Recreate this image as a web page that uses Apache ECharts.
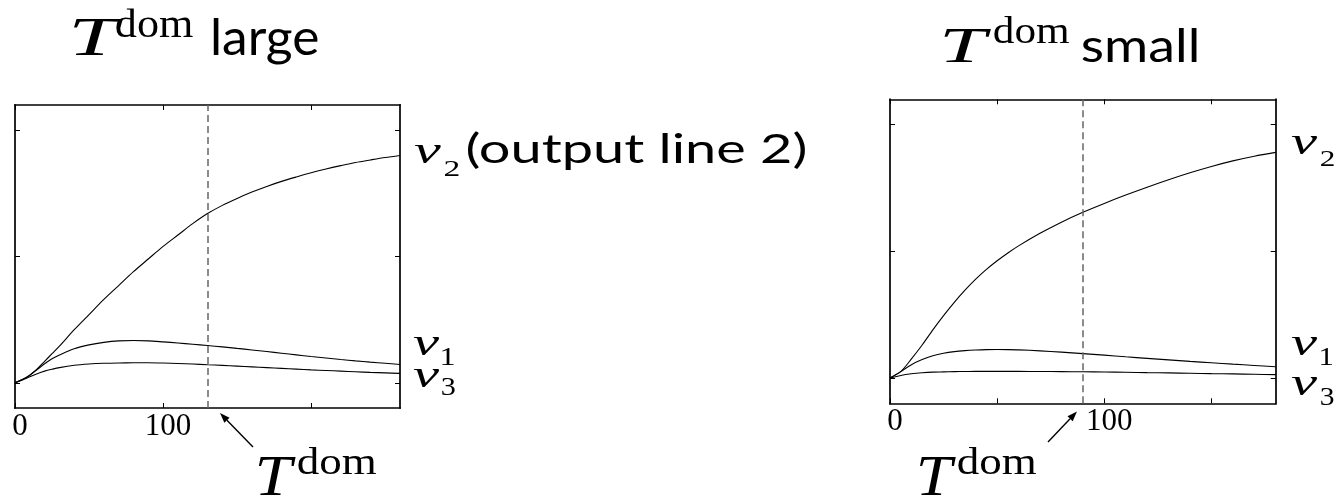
<!DOCTYPE html>
<html>
<head>
<meta charset="utf-8">
<script src="https://cdn.jsdelivr.net/npm/echarts@6/dist/echarts.min.js"></script>
<style>
  html, body { margin: 0; padding: 0; background: #fff; }
  #chart { width: 1339px; height: 500px; }
</style>
</head>
<body>
<div id="chart"></div>
<script>
// ---- responses with a long dominant time constant ----
const timesLarge = [0, 5, 10, 15, 20, 25, 30, 40, 50, 60, 70, 80, 90, 100, 110, 120, 130, 140, 150, 160, 170, 180, 190, 200, 210, 220, 230, 240, 250, 260];
const v1Large = [0, 0.025, 0.06, 0.105, 0.15, 0.19, 0.22, 0.27, 0.30, 0.32, 0.332, 0.335, 0.332, 0.324, 0.315, 0.305, 0.295, 0.284, 0.272, 0.26, 0.247, 0.234, 0.221, 0.208, 0.196, 0.184, 0.173, 0.163, 0.154, 0.145];
const v2Large = [0, 0.025, 0.06, 0.11, 0.17, 0.23, 0.29, 0.42, 0.54, 0.66, 0.77, 0.88, 0.98, 1.08, 1.17, 1.26, 1.34, 1.405, 1.46, 1.51, 1.555, 1.595, 1.63, 1.663, 1.693, 1.72, 1.745, 1.765, 1.784, 1.80];
const v3Large = [0, 0.022, 0.048, 0.072, 0.092, 0.107, 0.12, 0.138, 0.148, 0.154, 0.157, 0.158, 0.158, 0.156, 0.152, 0.148, 0.143, 0.138, 0.132, 0.126, 0.12, 0.114, 0.108, 0.102, 0.097, 0.092, 0.087, 0.082, 0.078, 0.074];
const tDomLarge = 130;

// ---- responses with a short dominant time constant ----
const timesSmall = [0, 5, 10, 15, 20, 25, 30, 35, 40, 45, 50, 55, 60, 70, 80, 90, 100, 110, 120, 130, 140, 150, 160, 170, 180];
const v1Small = [0, 0.05, 0.105, 0.145, 0.175, 0.195, 0.208, 0.216, 0.221, 0.224, 0.225, 0.224, 0.222, 0.214, 0.204, 0.192, 0.18, 0.167, 0.155, 0.143, 0.131, 0.12, 0.109, 0.099, 0.089];
const v2Small = [0, 0.05, 0.15, 0.26, 0.38, 0.492, 0.597, 0.693, 0.78, 0.857, 0.925, 0.987, 1.043, 1.142, 1.23, 1.308, 1.378, 1.444, 1.506, 1.565, 1.62, 1.67, 1.714, 1.751, 1.781];
const v3Small = [0, 0.02, 0.033, 0.041, 0.046, 0.048, 0.05, 0.051, 0.052, 0.052, 0.052, 0.052, 0.052, 0.051, 0.05, 0.049, 0.047, 0.045, 0.042, 0.04, 0.037, 0.034, 0.032, 0.029, 0.026];
const tDomSmall = 90;

// ---- axes ----
const xMaxLarge = 260;
const xMaxSmall = 180;
const xTicksLarge = [0, 100, 200];
const xTicksSmall = [0, 50, 100, 150];
const xTickLabels = [0, 100];
const yMin = -0.2;
const yMax = 2.2;
const yTicks = [0, 1, 2];

const MATH = '"Liberation Serif", "DejaVu Serif", serif';
const SANS = 'Lato, "Open Sans", "Liberation Sans", sans-serif';

const chart = echarts.init(document.getElementById('chart'), null, { renderer: 'canvas' });

function pairs(xs, ys) { return xs.map((x, i) => [x, ys[i]]); }

const spine = { show: true, onZero: false, lineStyle: { color: '#000', width: 1.7, cap: 'square' } };

function xAxis(grid, max, position, ticks, labels) {
  return {
    type: 'value', gridIndex: grid, min: 0, max: max, position: position,
    axisLine: spine,
    axisTick: { show: true, inside: true, length: 5, customValues: ticks, lineStyle: { color: '#000', width: 1 } },
    axisLabel: labels ? {
      show: true, customValues: labels, margin: 3, padding: [0, 0, 0, 10],
      fontFamily: MATH, fontSize: 31, color: '#000'
    } : { show: false },
    splitLine: { show: false }
  };
}

function yAxis(grid, position) {
  return {
    type: 'value', gridIndex: grid, min: yMin, max: yMax, position: position,
    axisLine: spine,
    axisTick: { show: true, inside: true, length: 5, customValues: yTicks, lineStyle: { color: '#000', width: 1 } },
    axisLabel: { show: false },
    splitLine: { show: false }
  };
}

function curve(name, xi, yi, data, mark) {
  const s = {
    name: name, type: 'line', xAxisIndex: xi, yAxisIndex: yi, data: data,
    showSymbol: false, smooth: 0.3, silent: true,
    lineStyle: { color: '#000', width: 1.1 }
  };
  if (mark !== undefined) {
    s.markLine = {
      silent: true, symbol: ['none', 'none'], label: { show: false },
      lineStyle: { color: '#666', width: 1.5, type: [7, 4] },
      data: [{ xAxis: mark }]
    };
  }
  return s;
}

// ---- text annotations: each piece is fitted to an ink box ----
const measureCtx = document.createElement('canvas').getContext('2d');
function piece(text, family, style, size, inkLeft, baseline, inkWidth) {
  const font = style + ' normal ' + size + 'px ' + family;
  measureCtx.font = font;
  measureCtx.textBaseline = 'alphabetic';
  const a = measureCtx.measureText(text);
  measureCtx.textBaseline = 'middle';
  const m = measureCtx.measureText(text);
  const ink = a.actualBoundingBoxLeft + a.actualBoundingBoxRight;
  const sx = inkWidth ? inkWidth / ink : 1;
  const drop = a.actualBoundingBoxAscent - m.actualBoundingBoxAscent;
  return {
    type: 'text', silent: true, z: 20,
    x: inkLeft + a.actualBoundingBoxLeft * sx,
    y: baseline - drop,
    scaleX: sx,
    style: {
      text: text, fontFamily: family, fontStyle: style, fontSize: size,
      fill: '#000', align: 'left', verticalAlign: 'middle'
    }
  };
}

function arrow(x1, y1, x2, y2) {
  const ang = Math.atan2(y2 - y1, x2 - x1);
  const len = 10, half = 3.6;
  const bx = x2 - len * Math.cos(ang), by = y2 - len * Math.sin(ang);
  const nx = -Math.sin(ang) * half, ny = Math.cos(ang) * half;
  return [
    { type: 'line', silent: true, z: 20, shape: { x1: x1, y1: y1, x2: bx, y2: by },
      style: { stroke: '#000', lineWidth: 1.4 } },
    { type: 'polygon', silent: true, z: 20,
      shape: { points: [[x2, y2], [bx + nx, by + ny], [bx - nx, by - ny]] },
      style: { fill: '#000' } }
  ];
}

const graphics = [
  // panel titles
  piece('T', MATH, 'italic', 55, 73, 55, 50),
  piece('dom', MATH, 'normal', 39, 116, 36.7, 77),
  piece('large', SANS, 'normal', 50, 213, 55, 105),
  piece('T', MATH, 'italic', 51, 944, 61.7, 48),
  piece('dom', MATH, 'normal', 37, 994, 43.3, 76),
  piece('small', SANS, 'normal', 46, 1082, 61.7, 115),
  // curve names, left panel
  piece('v', MATH, 'italic', 38, 414, 162.7, 27),
  piece('2', MATH, 'normal', 24, 445, 176, 14),
  piece('(output line 2)', SANS, 'normal', 40, 467, 162.7, 338),
  piece('v', MATH, 'italic', 37, 413, 355, 27),
  piece('1', MATH, 'normal', 25, 442, 365, 11.6),
  piece('v', MATH, 'italic', 37, 413, 386.7, 27),
  piece('3', MATH, 'normal', 25, 442, 395, 13.3),
  // curve names, right panel
  piece('v', MATH, 'italic', 37, 1291, 154, 27),
  piece('2', MATH, 'normal', 24, 1321, 166, 13),
  piece('v', MATH, 'italic', 37, 1291, 355, 27),
  piece('1', MATH, 'normal', 25, 1321, 365, 11),
  piece('v', MATH, 'italic', 37, 1291, 395, 27),
  piece('3', MATH, 'normal', 25, 1321, 405, 13),
  // dominant-time markers
  piece('T', MATH, 'italic', 58, 258, 495, 38),
  piece('dom', MATH, 'normal', 37, 298, 474, 79),
  piece('T', MATH, 'italic', 58, 919, 495, 37),
  piece('dom', MATH, 'normal', 37, 958, 474, 79)
].concat(arrow(253, 447, 220, 413), arrow(1048, 442, 1077, 411.5));

const option = {
  animation: false,
  backgroundColor: '#fff',
  grid: [
    { left: 15, top: 105, width: 385, height: 303, outerBoundsMode: 'none' },
    { left: 890, top: 99.3, width: 385.7, height: 304, outerBoundsMode: 'none' }
  ],
  xAxis: [
    xAxis(0, xMaxLarge, 'bottom', xTicksLarge, xTickLabels),
    xAxis(0, xMaxLarge, 'top', xTicksLarge, null),
    xAxis(1, xMaxSmall, 'bottom', xTicksSmall, xTickLabels),
    xAxis(1, xMaxSmall, 'top', xTicksSmall, null)
  ],
  yAxis: [
    yAxis(0, 'left'), yAxis(0, 'right'),
    yAxis(1, 'left'), yAxis(1, 'right')
  ],
  series: [
    curve('v2 large', 0, 0, pairs(timesLarge, v2Large), tDomLarge),
    curve('v1 large', 0, 0, pairs(timesLarge, v1Large)),
    curve('v3 large', 0, 0, pairs(timesLarge, v3Large)),
    curve('v2 small', 2, 2, pairs(timesSmall, v2Small), tDomSmall),
    curve('v1 small', 2, 2, pairs(timesSmall, v1Small)),
    curve('v3 small', 2, 2, pairs(timesSmall, v3Small))
  ],
  graphic: graphics
};

chart.setOption(option);
</script>
</body>
</html>
